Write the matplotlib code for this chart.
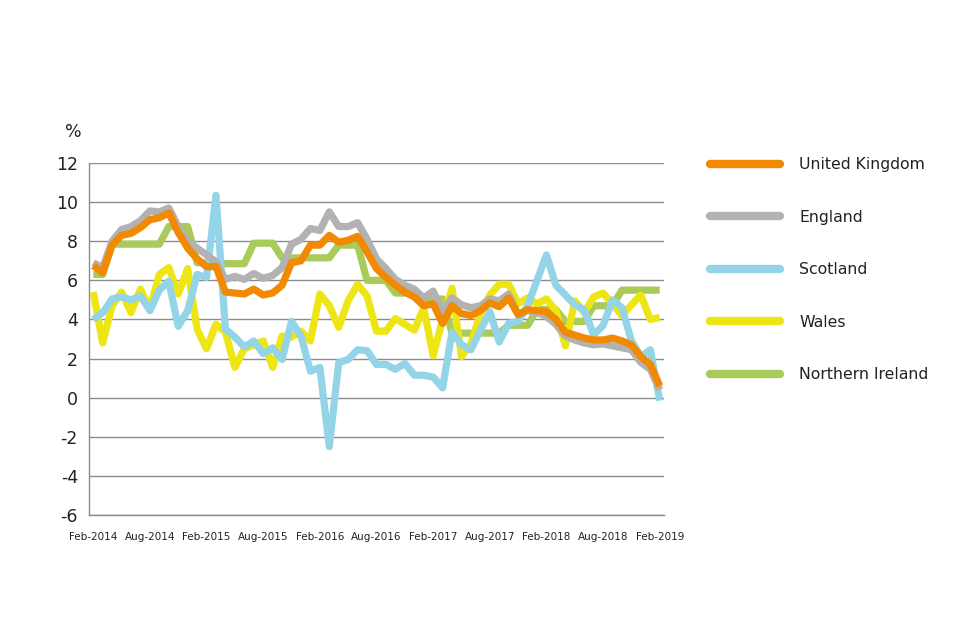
import matplotlib
matplotlib.use("Agg")
import matplotlib.pyplot as plt
from matplotlib.lines import Line2D
import numpy as np

# monthly periods Feb-2014 .. Feb-2019
month_names = ["Jan", "Feb", "Mar", "Apr", "May", "Jun", "Jul", "Aug", "Sep", "Oct", "Nov", "Dec"]
periods = [f"{month_names[(1 + k) % 12]}-{2014 + (1 + k) // 12}" for k in range(61)]

uk = [6.75, 6.4, 7.8, 8.3, 8.4, 8.7, 9.1, 9.2, 9.45, 8.45,
      7.65, 7.1, 6.7, 6.7, 5.4, 5.35, 5.3, 5.55, 5.25, 5.35,
      5.75, 6.9, 7.0, 7.8, 7.8, 8.3, 7.95, 8.05, 8.25, 7.45,
      6.6, 6.15, 5.75, 5.4, 5.15, 4.7, 4.8, 3.8, 4.7, 4.3,
      4.2, 4.45, 4.85, 4.65, 5.1, 4.25, 4.5, 4.45, 4.4, 4.0,
      3.35, 3.2, 3.05, 2.95, 2.95, 3.05, 2.9, 2.7, 2.1, 1.7,
      0.6]
england = [6.9, 6.65, 8.0, 8.6, 8.75, 9.05, 9.55, 9.5, 9.7, 8.75,
           8.0, 7.65, 7.3, 6.95, 6.05, 6.2, 6.05, 6.35, 6.1, 6.25,
           6.65, 7.85, 8.1, 8.65, 8.55, 9.5, 8.75, 8.75, 8.95, 8.1,
           7.1, 6.6, 6.05, 5.75, 5.55, 5.1, 5.45, 4.4, 5.1, 4.75,
           4.6, 4.7, 5.05, 4.95, 5.3, 4.25, 4.45, 4.35, 4.15, 3.75,
           3.15, 2.95, 2.8, 2.7, 2.75, 2.65, 2.55, 2.45, 1.8, 1.45,
           0.4]
scotland = [4.0, 4.35, 5.05, 5.15, 5.0, 5.2, 4.45, 5.5, 5.95, 3.65,
            4.45, 6.3, 6.15, 10.35, 3.5, 3.1, 2.6, 2.9, 2.25, 2.55,
            1.95, 3.9, 3.15, 1.35, 1.55, -2.5, 1.8, 1.95, 2.45, 2.4,
            1.7, 1.7, 1.45, 1.75, 1.15, 1.15, 1.05, 0.5, 3.35, 2.7,
            2.45, 3.45, 4.4, 2.85, 3.8, 3.9, 4.7, 6.0, 7.3, 5.75,
            5.25, 4.75, 4.5, 3.2, 3.7, 5.0, 4.6, 2.9, 2.1, 2.45,
            -0.15]
wales = [5.4, 2.8, 4.7, 5.4, 4.35, 5.55, 4.55, 6.3, 6.65, 5.3,
         6.6, 3.5, 2.5, 3.75, 3.35, 1.55, 2.5, 2.7, 2.9, 1.55,
         3.15, 3.1, 3.4, 2.9, 5.3, 4.7, 3.6, 4.95, 5.8, 5.2,
         3.4, 3.4, 4.05, 3.75, 3.45, 4.6, 2.15, 4.0, 5.6, 2.1,
         2.75, 4.3, 5.25, 5.8, 5.8, 4.8, 5.1, 4.8, 5.05, 4.45,
         2.65, 4.95, 4.35, 5.15, 5.35, 4.8, 4.2, 4.75, 5.25, 4.0,
         4.1]
n_ireland = [6.3, 6.3, 7.85, 7.85, 7.85, 7.85, 7.85, 7.85, 8.75, 8.75,
             8.75, 6.9, 6.9, 6.9, 6.85, 6.85, 6.85, 7.9, 7.9, 7.9,
             7.15, 7.15, 7.15, 7.15, 7.15, 7.15, 7.8, 7.8, 7.8, 6.0,
             6.0, 6.0, 5.35, 5.35, 5.35, 5.05, 5.05, 5.05, 3.3, 3.3,
             3.3, 3.3, 3.3, 3.3, 3.7, 3.7, 3.7, 4.5, 4.5, 4.5,
             3.9, 3.9, 3.9, 4.7, 4.7, 4.7, 5.5, 5.5, 5.5, 5.5,
             5.5]

series_names = ["United Kingdom", "England", "Scotland", "Wales", "Northern Ireland"]
series_values = [uk, england, scotland, wales, n_ireland]
series_colors = ["#F18A00", "#B2B2B2", "#93D4E8", "#EEE514", "#A9CB59"]

y_ticks = [-6, -4, -2, 0, 2, 4, 6, 8, 10, 12]

plt.rcParams['font.family'] = ['DejaVu Sans']
fig = plt.figure(figsize=(9.6, 6.4), dpi=100)
ax = fig.add_axes([89/960, 1 - 515/640, (664 - 89)/960, (515 - 163)/640])

x = np.arange(len(periods))
n = len(series_names)
for idx, (name, vals, col) in enumerate(zip(series_names, series_values, series_colors)):
    ax.plot(x, vals, color=col, lw=5.2, label=name,
            solid_capstyle='butt', solid_joinstyle='round', zorder=10 + (n - idx))

ax.set_xlim(-0.45, len(periods) - 1 + 0.45)
ax.set_ylim(-6, 12)
ax.set_yticks(y_ticks)
ax.set_yticklabels([str(v) for v in y_ticks])
ax.yaxis.grid(True, color="#8C8C8C", lw=1.0)
ax.set_axisbelow(True)
ax.set_xticks(x[::6])
ax.set_xticklabels(periods[::6])
for s in ["top", "right"]:
    ax.spines[s].set_visible(False)
for s in ["left", "bottom"]:
    ax.spines[s].set_color("#8C8C8C")
    ax.spines[s].set_linewidth(1.0)
ax.tick_params(axis="y", length=0, pad=8, labelsize=12.5, colors="#222222")
ax.tick_params(axis="x", length=0, pad=12, labelsize=7.5, colors="#222222")

fig.text(73/960, 1 - 132/640, "%", fontsize=12.5, color="#222222", ha="center", va="center")

leg_handles = [Line2D([0], [0], color=col, lw=6, solid_capstyle='round') for col in series_colors]
leg = fig.legend(leg_handles, series_names, loc="upper left",
                 bbox_to_anchor=(710/960, 1 - 157/640), frameon=False,
                 fontsize=11.3, handlelength=4.45, handletextpad=1.25,
                 labelspacing=2.39, borderaxespad=0, borderpad=0)
for t in leg.get_texts():
    t.set_color("#222222")

fig.savefig("out.png", dpi=100)
